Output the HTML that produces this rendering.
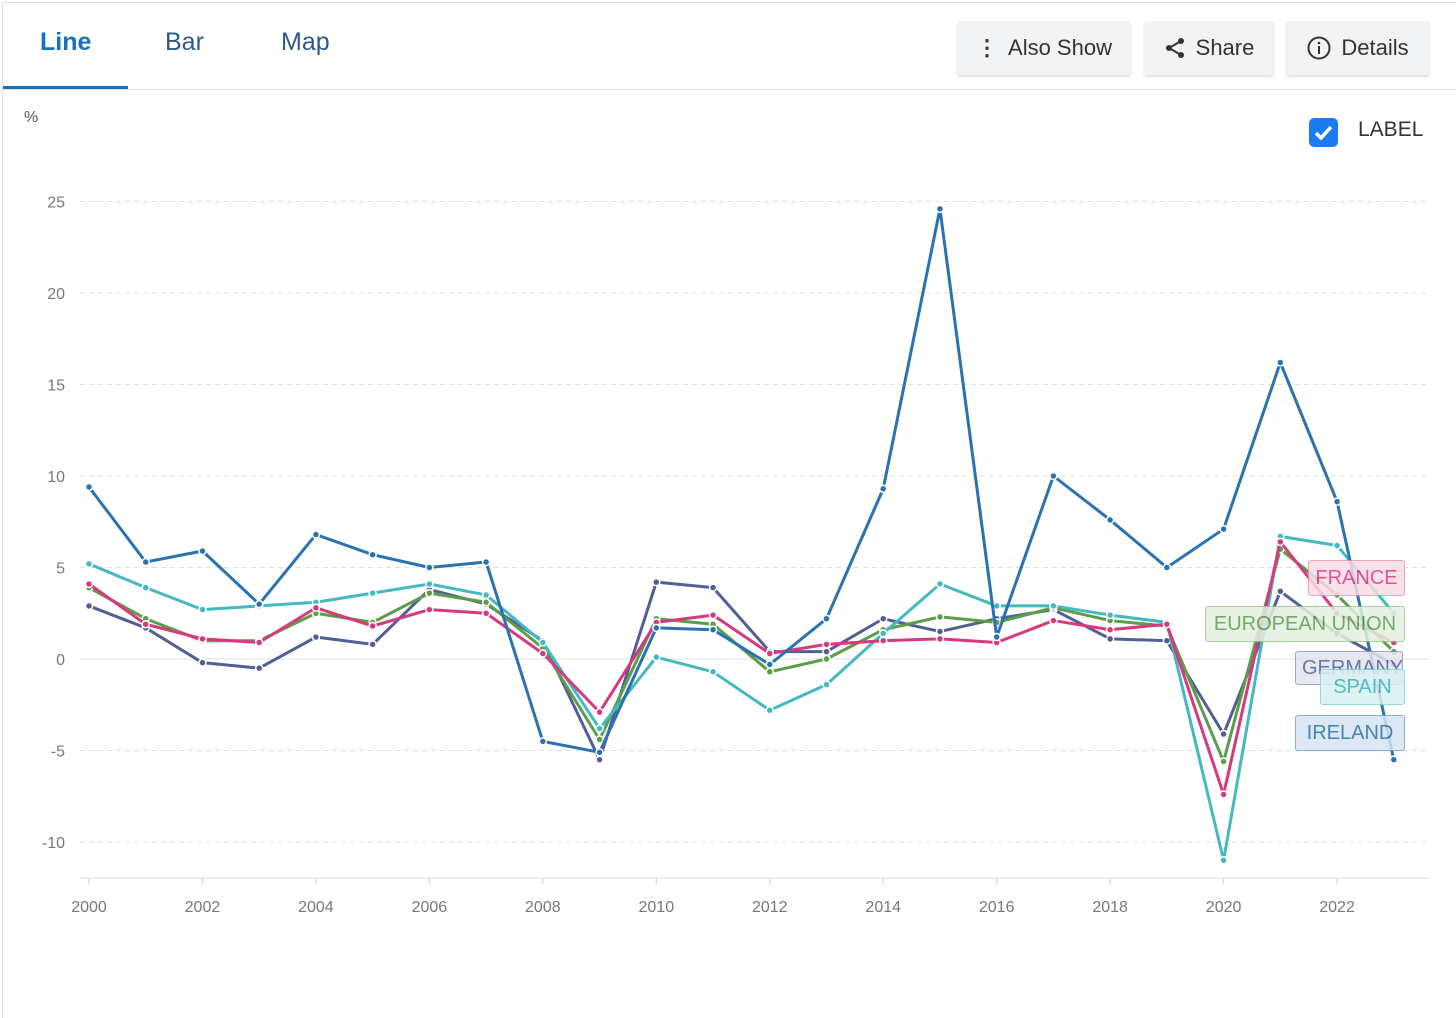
<!DOCTYPE html>
<html><head><meta charset="utf-8">
<style>
body{margin:0;width:1456px;height:1018px;background:#fff;font-family:"Liberation Sans",sans-serif;overflow:hidden;position:relative}
.frame{position:absolute;left:2px;top:2px;right:0;bottom:0;border-left:1px solid #dde1e6;border-top:1px solid #dde1e6}
.tab{position:absolute;top:28px;font-size:25px;color:#2c5a86}
.uline{position:absolute;left:3px;top:86px;width:125px;height:4px;background:#1570c0}
.hline{position:absolute;left:3px;right:0;top:89px;height:1px;background:#dde1e6}
.btn{position:absolute;top:21px;height:54px;background:#f1f3f5;border-radius:3px;box-shadow:0 2px 2px rgba(0,0,0,.12);font-size:22px;color:#333;display:flex;align-items:center;justify-content:center;gap:10px}
.lbl{position:absolute;height:34px;border:1px solid;border-radius:3px;font-size:20px;display:flex;align-items:center;justify-content:center;opacity:.85}
</style></head><body>
<div class="frame"></div>
<div class="tab" style="left:40px;color:#1570c0;font-weight:600">Line</div>
<div class="tab" style="left:165px">Bar</div>
<div class="tab" style="left:281px">Map</div>
<div class="uline"></div>
<div class="hline"></div>
<div class="btn" style="left:957px;width:174px"><span style="font-weight:bold">⋮</span>Also Show</div>
<div class="btn" style="left:1144px;width:130px"><svg width="22" height="22" viewBox="0 0 22 22"><circle cx="17" cy="4" r="3" fill="#333"/><circle cx="5" cy="11" r="3" fill="#333"/><circle cx="17" cy="18" r="3" fill="#333"/><path d="M17 4L5 11L17 18" stroke="#333" stroke-width="2" fill="none"/></svg>Share</div>
<div class="btn" style="left:1286px;width:144px"><svg width="24" height="24" viewBox="0 0 24 24"><circle cx="12" cy="12" r="10.5" stroke="#333" stroke-width="2" fill="none"/><rect x="11" y="10" width="2" height="8" fill="#333"/><circle cx="12" cy="7" r="1.3" fill="#333"/></svg>Details</div>
<div style="position:absolute;left:24px;top:109px;font-size:16px;color:#555">%</div>
<div style="position:absolute;left:1309px;top:118px;width:29px;height:29px;background:#1a7cf0;border-radius:5px"><svg width="29" height="29"><path d="M7 15l5 5 10-11" stroke="#fff" stroke-width="3.5" fill="none"/></svg></div>
<div style="position:absolute;left:1358px;top:118px;font-size:21px;color:#333">LABEL</div>
<svg id="chart" width="1456" height="1018" style="position:absolute;left:0;top:0"></svg>
<div class="lbl" style="left:1308px;top:560px;width:95px;background:#f9dbe6;border-color:#e893b7;color:#d63a7e">FRANCE</div>
<div class="lbl" style="left:1205px;top:606px;width:198px;background:#e4f0e0;border-color:#98c78c;color:#5a9e4a">EUROPEAN UNION</div>
<div class="lbl" style="left:1295px;top:651px;width:108px;background:#e3e4ef;border-color:#8f96bd;color:#535f94;justify-content:flex-start;padding-left:6px;box-sizing:border-box">GERMANY</div>
<div class="lbl" style="left:1320px;top:669px;width:83px;background:#d9f1f3;border-color:#86d2d8;color:#38b0ba">SPAIN</div>
<div class="lbl" style="left:1295px;top:715px;width:108px;background:#d6e6f3;border-color:#6fa3cf;color:#2a6ea8">IRELAND</div>
<script>
const years=[2000,2001,2002,2003,2004,2005,2006,2007,2008,2009,2010,2011,2012,2013,2014,2015,2016,2017,2018,2019,2020,2021,2022,2023];
const yTicks=[25,20,15,10,5,0,-5,-10];
const xTicks=[2000,2002,2004,2006,2008,2010,2012,2014,2016,2018,2020,2022];
const ireland=[9.4,5.3,5.9,3.0,6.8,5.7,5.0,5.3,-4.5,-5.1,1.7,1.6,-0.3,2.2,9.3,24.6,1.2,10.0,7.6,5.0,7.1,16.2,8.6,-5.5];
const spain=[5.2,3.9,2.7,2.9,3.1,3.6,4.1,3.5,0.9,-3.8,0.1,-0.7,-2.8,-1.4,1.4,4.1,2.9,2.9,2.4,2.0,-11.0,6.7,6.2,2.5];
const france=[4.1,1.9,1.1,0.9,2.8,1.8,2.7,2.5,0.3,-2.9,2.0,2.4,0.3,0.8,1.0,1.1,0.9,2.1,1.6,1.9,-7.4,6.4,2.5,0.9];
const eu=[3.9,2.2,1.0,1.0,2.5,2.0,3.6,3.1,0.6,-4.4,2.2,1.9,-0.7,0.0,1.6,2.3,2.0,2.8,2.1,1.8,-5.6,6.0,3.5,0.4];
const germany=[2.9,1.7,-0.2,-0.5,1.2,0.8,3.8,3.0,1.0,-5.5,4.2,3.9,0.4,0.4,2.2,1.5,2.2,2.7,1.1,1.0,-4.1,3.7,1.4,-0.3];
const X=y=>89+(y-2000)*56.73, Y=v=>659-v*18.3;
const svg=document.getElementById('chart'),NS='http://www.w3.org/2000/svg';
function mk(t,a){const e=document.createElementNS(NS,t);for(const k in a)e.setAttribute(k,a[k]);svg.appendChild(e);return e;}
yTicks.forEach(v=>{
 const l=mk('line',{x1:80,x2:1430,y1:Y(v),y2:Y(v),stroke:v===0?'#dde3e8':'#dde1e6','stroke-dasharray':v===0?'':'5,4'});
 
 
 const t=mk('text',{x:65,y:Y(v)+6,'text-anchor':'end','font-size':16,fill:'#777','font-family':'Liberation Sans'});t.textContent=v;
 
 
});
xTicks.forEach(v=>{
 const l=mk('line',{x1:X(v),x2:X(v),y1:878,y2:884,stroke:'#ccc'});
 
 
 const t=mk('text',{x:X(v),y:912,'text-anchor':'middle','font-size':16,fill:'#777','font-family':'Liberation Sans'});t.textContent=v;
 
 
});
mk('line',{x1:80,x2:1430,y1:878,y2:878,stroke:'#ddd'});
const series=[[germany,'#535f94','germany'],[eu,'#5a9e4a','eu'],[spain,'#45b8c0','spain'],[france,'#d63a7e','france'],[ireland,'#2a72b0','ireland']];
series.forEach(([d,c,n])=>{
 const p=mk('polyline',{points:d.map((v,i)=>X(years[i])+','+Y(v)).join(' '),fill:'none',stroke:c,'stroke-width':3,'stroke-linejoin':'round'});
 
 
 d.forEach((v,i)=>{const m=mk('circle',{cx:X(years[i]),cy:Y(v),r:3.5,fill:c,stroke:'#fff','stroke-width':1.5});
  
  });
});
</script>
</body></html>
